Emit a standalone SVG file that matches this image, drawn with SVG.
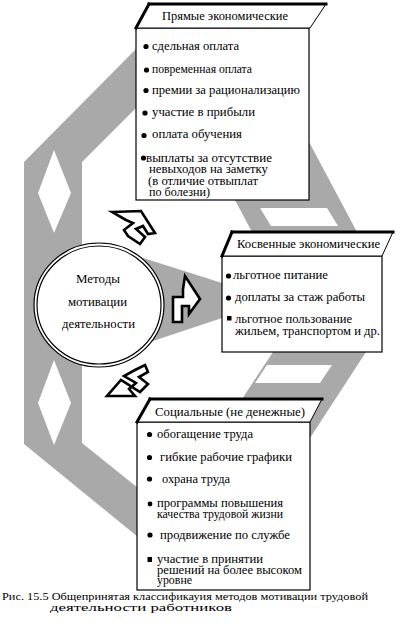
<svg xmlns="http://www.w3.org/2000/svg" width="418" height="635" viewBox="0 0 418 635">
<style>
.g{fill:#a9a9a9;stroke:none}
.bx{fill:#fff;stroke:#000;stroke-width:1.2}
.hd{fill:#fff;stroke:#000;stroke-width:1}
.tk{stroke:#000;stroke-width:3;stroke-linecap:square;fill:none}
.t{font-family:"Liberation Serif","Times New Roman",serif;font-size:11.5px;fill:#000}
.c{font-family:"Liberation Serif","Times New Roman",serif;font-size:11px;fill:#000}
.b{fill:#000}
.ar{fill:#fff;stroke:#000;stroke-width:2.6;stroke-linejoin:miter}
</style>
<rect width="418" height="635" fill="#fff"/>
<g id="frame">
<path class="g" fill-rule="evenodd" d="M136,49 L24,162 L24,444 L138,537 L138,488 L82,443 L82,162 L136,108 Z M54,150 L71,193 L54,233 L38,193 Z M54,360 L71,403 L54,445 L38,403 Z"/>
<path class="g" fill-rule="evenodd" d="M300,120 L308,140 L357,232 L252,232 L235,200 L240,120 Z M260,208 L327,208 L338,226 L271,226 Z"/>
<path class="g" fill-rule="evenodd" d="M273,352 L366,352 L310,438 L220,438 L242,399 Z M267,365 L332,365 L320,383 L255,383 Z"/>
<polygon class="g" points="99,244 222,283 222,318 99,359"/>
</g>
<g id="box-direct">
<rect class="bx" x="136" y="28" width="173" height="172"/>
<polygon class="hd" points="149,4 326,4 310,28 136,28"/>
<line class="tk" x1="149" y1="4" x2="326" y2="4"/>
<line class="tk" x1="149" y1="4" x2="136" y2="28"/>
<text class="t" x="162" y="20" textLength="126" lengthAdjust="spacingAndGlyphs">Прямые экономические</text>
<circle class="b" cx="146" cy="46.5" r="2.6"/>
<text class="t" x="152" y="49.5" textLength="87" lengthAdjust="spacingAndGlyphs">сдельная оплата</text>
<circle class="b" cx="146.5" cy="70" r="2.6"/>
<text class="t" x="152" y="72.5" textLength="100" lengthAdjust="spacingAndGlyphs">повременная оплата</text>
<circle class="b" cx="146" cy="90.5" r="2.6"/>
<text class="t" x="152" y="94" textLength="148" lengthAdjust="spacingAndGlyphs">премии за рационализацию</text>
<circle class="b" cx="145" cy="113" r="2.6"/>
<text class="t" x="152" y="116" textLength="103" lengthAdjust="spacingAndGlyphs">участие в прибыли</text>
<circle class="b" cx="144" cy="135.5" r="2.6"/>
<text class="t" x="152" y="138" textLength="90" lengthAdjust="spacingAndGlyphs">оплата обучения</text>
<circle class="b" cx="143.5" cy="158" r="2.6"/>
<text class="t" x="146" y="162" textLength="126" lengthAdjust="spacingAndGlyphs">выплаты за отсутствие</text>
<text class="t" x="149" y="173" textLength="119" lengthAdjust="spacingAndGlyphs">невыходов на заметку</text>
<text class="t" x="148" y="184.5" textLength="110" lengthAdjust="spacingAndGlyphs">(в  отличие отвыплат</text>
<text class="t" x="149" y="195.5" textLength="61" lengthAdjust="spacingAndGlyphs">по болезни)</text>
</g>
<g id="box-indirect">
<rect class="bx" x="222" y="256" width="160" height="96"/>
<polygon class="hd" points="232,232 393,232 382,256 222,256"/>
<line class="tk" x1="232" y1="232" x2="393" y2="232"/>
<line class="tk" x1="232" y1="232" x2="222" y2="256"/>
<text class="t" x="237" y="248" textLength="143" lengthAdjust="spacingAndGlyphs">Косвенные экономические</text>
<circle class="b" cx="228.5" cy="276" r="2.6"/>
<text class="t" x="233" y="279" textLength="95" lengthAdjust="spacingAndGlyphs">льготное питание</text>
<circle class="b" cx="228.5" cy="298" r="2.6"/>
<text class="t" x="235" y="301" textLength="130" lengthAdjust="spacingAndGlyphs">доплаты за стаж работы</text>
<rect class="b" x="227" y="316" width="4.5" height="4.5"/>
<text class="t" x="235" y="323" textLength="117" lengthAdjust="spacingAndGlyphs">льготное пользование</text>
<text class="t" x="235" y="335" textLength="145" lengthAdjust="spacingAndGlyphs">жильем, транспортом и др.</text>
</g>
<g id="box-social">
<rect class="bx" x="137" y="422" width="173" height="168"/>
<polygon class="hd" points="150,399 322,399 310,422 137,422"/>
<line class="tk" x1="150" y1="399" x2="322" y2="399"/>
<line class="tk" x1="150" y1="399" x2="137" y2="422"/>
<text class="t" x="155" y="416" textLength="150" lengthAdjust="spacingAndGlyphs">Социальные (не денежные)</text>
<circle class="b" cx="149.5" cy="434.5" r="2.6"/>
<text class="t" x="157" y="438" textLength="96" lengthAdjust="spacingAndGlyphs">обогащение труда</text>
<circle class="b" cx="149.5" cy="457.5" r="2.6"/>
<text class="t" x="160" y="461" textLength="132" lengthAdjust="spacingAndGlyphs">гибкие рабочие графики</text>
<circle class="b" cx="149.5" cy="479" r="2.6"/>
<text class="t" x="162" y="483" textLength="68" lengthAdjust="spacingAndGlyphs">охрана труда</text>
<circle class="b" cx="150" cy="504" r="2.4"/>
<text class="t" x="157" y="506.5" textLength="126" lengthAdjust="spacingAndGlyphs">программы повышения</text>
<text class="t" x="157" y="517.5" textLength="126" lengthAdjust="spacingAndGlyphs">качества трудовой жизни</text>
<circle class="b" cx="150" cy="535" r="2.6"/>
<text class="t" x="160" y="538.5" textLength="130" lengthAdjust="spacingAndGlyphs">продвижение по службе</text>
<rect class="b" x="147.5" y="557" width="4.5" height="5"/>
<text class="t" x="157" y="562.5" textLength="106" lengthAdjust="spacingAndGlyphs">участие в принятии</text>
<text class="t" x="157" y="573.5" textLength="145" lengthAdjust="spacingAndGlyphs">решений на более высоком</text>
<text class="t" x="157" y="584" textLength="35" lengthAdjust="spacingAndGlyphs">уровне</text>
</g>
<g id="center">
<ellipse cx="99" cy="305" rx="65" ry="62" fill="#fff" stroke="#000" stroke-width="1.2"/>
<ellipse cx="99" cy="305" rx="62" ry="59" fill="none" stroke="#000" stroke-width="1.2"/>
<text class="t" x="76" y="283" textLength="44" lengthAdjust="spacingAndGlyphs">Методы</text>
<text class="t" x="68" y="306" textLength="59" lengthAdjust="spacingAndGlyphs">мотивации</text>
<text class="t" x="62" y="328" textLength="73" lengthAdjust="spacingAndGlyphs">деятельности</text>
</g>
<g id="connectors">
<polygon class="ar" points="112,212 141,211 155,233 148,234 143,226 136,229 145,237 140,244 128,236 124,230 133,223 126,220"/>
<polygon class="ar" points="185,276 200,299 189,314 189,306 182,306 182,322 173,322 173,297 183,297 183,289"/>
<polygon class="ar" points="107,396 135,396 129,389 136,383 124,376 135,370 145,365 148,372 139,377 148,384 140,392 121,380"/>
</g>
<g id="caption">
<text class="c" x="2" y="600" textLength="366" lengthAdjust="spacingAndGlyphs">Рис. 15.5 Общепринятая классификауия методов  мотивации трудовой</text>
<text class="c" x="50" y="611" textLength="182" lengthAdjust="spacingAndGlyphs">деятельности работников</text>
</g>
</svg>
